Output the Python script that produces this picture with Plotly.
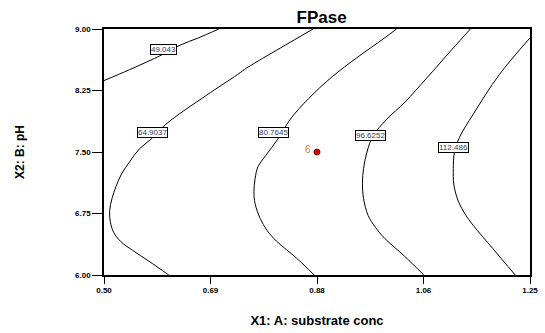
import plotly.graph_objects as go

# Contour levels and their points
levels = ["49.043", "64.9037", "80.7645", "96.6252", "112.486"]

c1_x = [0.500, 0.545, 0.602, 0.635, 0.666, 0.702]
c1_y = [8.371, 8.504, 8.685, 8.806, 8.891, 9.000]

c2_x = [0.868, 0.811, 0.752, 0.735, 0.680, 0.609, 0.583, 0.562, 0.545, 0.531, 0.521, 0.514, 0.510, 0.511, 0.517, 0.529, 0.550, 0.579, 0.614]
c2_y = [9.000, 8.770, 8.528, 8.444, 8.190, 7.839, 7.657, 7.536, 7.379, 7.234, 7.077, 6.931, 6.786, 6.653, 6.520, 6.411, 6.302, 6.169, 6.000]

c3_x = [1.015, 0.994, 0.945, 0.902, 0.860, 0.828, 0.806, 0.785, 0.771, 0.766, 0.764, 0.766, 0.775, 0.787, 0.804, 0.839, 0.870]
c3_y = [9.000, 8.891, 8.649, 8.420, 8.150, 7.900, 7.657, 7.460, 7.319, 7.173, 7.016, 6.871, 6.689, 6.544, 6.411, 6.206, 6.000]

c4_x = [1.145, 1.112, 1.068, 1.030, 0.998, 0.974, 0.963, 0.957, 0.955, 0.957, 0.965, 0.978, 0.994, 1.029, 1.063]
c4_y = [9.000, 8.746, 8.400, 8.110, 7.900, 7.700, 7.500, 7.300, 7.120, 6.930, 6.726, 6.580, 6.448, 6.230, 6.000]

c5_x = [1.250, 1.196, 1.150, 1.126, 1.117, 1.115, 1.116, 1.124, 1.136, 1.150, 1.184, 1.224]
c5_y = [8.891, 8.444, 7.960, 7.680, 7.500, 7.300, 7.100, 6.895, 6.740, 6.605, 6.327, 6.000]

label_x = [0.604, 0.585, 0.799, 0.970, 1.115]
label_y = [8.746, 7.742, 7.742, 7.706, 7.560]

# Design point
pt_x = [0.875]
pt_y = [7.50]
pt_label = "6"

x_ticks = [0.50, 0.6875, 0.875, 1.0625, 1.25]
x_ticktext = ["0.50", "0.69", "0.88", "1.06", "1.25"]
y_ticks = [6.00, 6.75, 7.50, 8.25, 9.00]
y_ticktext = ["6.00", "6.75", "7.50", "8.25", "9.00"]

FONT = "Liberation Sans, Arial"

fig = go.Figure()
for cx, cy in [(c1_x, c1_y), (c2_x, c2_y), (c3_x, c3_y), (c4_x, c4_y), (c5_x, c5_y)]:
    fig.add_trace(go.Scatter(x=cx, y=cy, mode="lines",
                             line=dict(color="black", width=1, shape="spline", smoothing=1.0),
                             showlegend=False, hoverinfo="skip"))

fig.add_trace(go.Scatter(x=pt_x, y=pt_y, mode="markers",
                         marker=dict(color="#e00000", size=6, line=dict(color="#700000", width=1)),
                         showlegend=False))

annotations = []
for lx, ly, txt in zip(label_x, label_y, levels):
    annotations.append(dict(x=lx, y=ly, xref="x", yref="y", text=txt, showarrow=False,
                            font=dict(family=FONT, size=8, color="#3a3a5a"),
                            bgcolor="white", bordercolor="black", borderwidth=1, borderpad=0))
annotations.append(dict(x=pt_x[0], y=pt_y[0], xref="x", yref="y", text=pt_label, showarrow=False,
                        xshift=-9, yshift=3,
                        font=dict(family=FONT, size=10, color="#d08030")))

fig.update_layout(
    width=545, height=333,
    margin=dict(l=104, r=7, t=29, b=56),
    paper_bgcolor="white", plot_bgcolor="white",
    title=dict(text="<b>FPase</b>", x=0.59, xanchor="center", y=0.95, yanchor="middle",
               font=dict(family=FONT, size=17, color="black")),
    annotations=annotations,
    xaxis=dict(range=[0.5, 1.25], tickvals=x_ticks, ticktext=["<b>%s</b>" % t for t in x_ticktext],
               ticks="outside", ticklen=7, tickcolor="black", tickwidth=1,
               showline=True, linecolor="black", linewidth=1.5, mirror=True,
               showgrid=False, zeroline=False,
               tickfont=dict(family=FONT, size=8, color="black"),
               title=dict(text="<b>X1: A: substrate conc</b>", standoff=22,
                          font=dict(family=FONT, size=13, color="black"))),
    yaxis=dict(range=[6.0, 9.0], tickvals=y_ticks, ticktext=["<b>%s</b>" % t for t in y_ticktext],
               ticks="outside", ticklen=10, tickcolor="black", tickwidth=1,
               showline=True, linecolor="black", linewidth=1.5, mirror=True,
               showgrid=False, zeroline=False,
               tickfont=dict(family=FONT, size=8, color="black"),
               title=dict(text="<b>X2: B: pH</b>", standoff=48,
                          font=dict(family=FONT, size=12, color="black"))),
)

fig.write_html("out.html")
